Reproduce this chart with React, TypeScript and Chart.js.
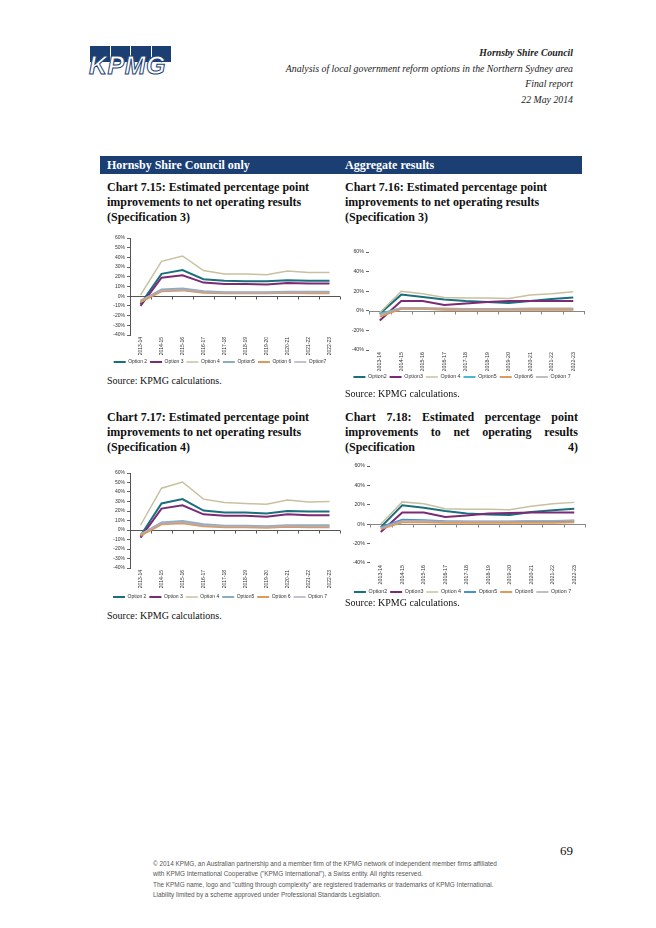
import React, { useEffect, useRef } from 'react';
import { Chart, registerables } from 'chart.js';

Chart.register(...registerables);

// ---------- data ----------
const years = ['2013-14', '2014-15', '2015-16', '2016-17', '2017-18', '2018-19', '2019-20', '2020-21', '2021-22', '2022-23'];

const names715 = ['Option 2', 'Option 3', 'Option 4', 'Option5', 'Option 6', 'Option7'];
const names716 = ['Option2', 'Option3', 'Option 4', 'Option5', 'Option6', 'Option 7'];
const names717 = ['Option 2', 'Option 3', 'Option 4', 'Option5', 'Option 6', 'Option 7'];
const names718 = ['Option2', 'Option3', 'Option 4', 'Option5', 'Option6', 'Option 7'];

// Chart 7.15 – Hornsby only, Specification 3 (percentage points)
const c715Option2 = [-8, 23, 27, 17.5, 16, 15.5, 15.5, 16.5, 16, 16];
const c715Option3 = [-10, 19, 21.5, 14, 12.5, 12.5, 12, 13.5, 13, 13];
const c715Option4 = [1, 36, 41.5, 26.5, 23, 23, 22, 26, 24.5, 24.5];
const c715Option5 = [-5, 7, 8, 5, 4, 4, 4, 4.5, 4.5, 4.5];
const c715Option6 = [-6, 5, 6, 3.5, 3, 3, 3, 3.5, 3, 3];
const c715Option7 = [-4, 6, 7, 4.5, 3.5, 3.5, 3.5, 4, 4, 4];

// Chart 7.16 – Aggregate, Specification 3
const c716Option2 = [-3, 16.5, 14, 11.5, 10, 9, 8, 10, 12, 13.5];
const c716Option3 = [-10, 10, 10, 6, 7.5, 9, 10, 10, 10, 10];
const c716Option4 = [-2, 20, 17.5, 13.5, 13, 13, 12.5, 16, 17.5, 19.5];
const c716Option5 = [-3, 2.5, 2, 1.5, 1.5, 1.5, 1.5, 1.5, 1.5, 1.5];
const c716Option6 = [-6, 2, 2, 1, 1, 1, 1, 1, 1, 1];
const c716Option7 = [-4, 3, 3, 2.5, 2, 2, 2, 2.5, 2.5, 2.5];

// Chart 7.17 – Hornsby only, Specification 4
const c717Option2 = [-6, 28, 32.5, 20.5, 18.5, 18.5, 17.5, 20, 19.5, 19.5];
const c717Option3 = [-8, 22.5, 26, 16.5, 15, 15, 14, 16.5, 15.5, 15.5];
const c717Option4 = [5, 44, 50.5, 32.5, 29, 28, 27, 31.5, 29.5, 30];
const c717Option5 = [-5, 8, 9.5, 6, 4.5, 4.5, 4, 5, 5, 5];
const c717Option6 = [-6, 6, 7, 4, 3, 3, 2.5, 3.5, 3, 3];
const c717Option7 = [-4, 7, 8.5, 5, 4, 4, 3.5, 4.5, 4, 4];

// Chart 7.18 – Aggregate, Specification 4
const c718Option2 = [-3, 19.5, 17, 13.5, 11, 10, 9.5, 12.5, 14.5, 16];
const c718Option3 = [-8, 12, 12, 7.5, 9, 11, 11.5, 12, 12, 12];
const c718Option4 = [0, 23, 21, 16, 15.5, 15.5, 15, 18.5, 21, 22.5];
const c718Option5 = [-3, 4.5, 4, 3, 2.5, 2.5, 2.5, 3, 3, 3.5];
const c718Option6 = [-5, 2, 2, 1.5, 1.5, 1.5, 1.5, 1.5, 1.5, 2];
const c718Option7 = [-4, 3.5, 3.5, 3, 3, 3, 3, 3.5, 3.5, 4];

// ---------- styles ----------
const colorsHornsby = ['#1b6f7c', '#7b2a76', '#c8c0a0', '#8aaebf', '#dc9a5c', '#b0abbd'];
const colors716 = ['#1b6f7c', '#7b2a76', '#c8c0a0', '#49b9d0', '#dc9a5c', '#aaa9b4'];
const colors718 = ['#1b6f7c', '#7b2a76', '#c8c0a0', '#4a93c9', '#dc9a5c', '#aaa9b4'];
const lineWidths = [2, 2, 1.5, 2, 2, 1.5];

const NAVY = '#1b3f73';
const SANS = '"Liberation Sans", Arial, sans-serif';
const SERIF = '"Liberation Serif", "Times New Roman", serif';

const zeroAxisPlugin = {
  id: 'zeroAxis',
  beforeDatasetsDraw(chart: any, _args: any, opts: any) {
    const { ctx, chartArea, scales } = chart;
    const x = scales.x;
    const y = scales.y;
    const y0 = Math.round(y.getPixelForValue(0)) + 0.5;
    ctx.save();
    ctx.strokeStyle = opts.color || '#555';
    ctx.lineWidth = 1;
    ctx.beginPath();
    ctx.moveTo(chartArea.left, y0);
    ctx.lineTo(chartArea.right + (opts.extend || 0), y0);
    const n = chart.data.labels.length;
    for (let i = 0; i <= n; i++) {
      const px = Math.round(x.getPixelForValue(i - 0.5)) + 0.5;
      ctx.moveTo(px, y0);
      ctx.lineTo(px, y0 + 3);
    }
    ctx.stroke();
    ctx.restore();
  },
};

type Geo = {
  canvasLeft: number;
  plotLeft: number;
  plotRight: number;
  plotTop: number;
  plotBottom: number;
  legendY: number;
};

type Props = {
  geo: Geo;
  names: string[];
  series: number[][];
  colors: string[];
  yStep: number;
  yBorder: boolean;
  zeroColor: string;
  zeroExtend: number;
  fontSize: number;
};

function LineChart({ geo, names, series, colors, yStep, yBorder, zeroColor, zeroExtend, fontSize }: Props) {
  const ref = useRef<HTMLCanvasElement>(null);
  const padTop = 8;
  const legendPad = 3;
  const itemH = fontSize;
  const legendTop = geo.legendY - legendPad - itemH / 2;
  const xH = legendTop - geo.plotBottom;
  const canvasTop = geo.plotTop - padTop;
  const rawBottom = legendTop + itemH + legendPad + 10;
  const height = Math.ceil(rawBottom - canvasTop);
  const padBottom = height - (rawBottom - canvasTop);
  const width = Math.ceil(geo.plotRight - geo.canvasLeft + 2);
  const padRight = geo.canvasLeft + width - geo.plotRight;
  const yW = geo.plotLeft - geo.canvasLeft;

  useEffect(() => {
    if (!ref.current) return;
    const font = { family: SANS, size: fontSize };
    const chart = new Chart(ref.current, {
      type: 'line',
      data: {
        labels: years,
        datasets: series.map((d, i) => ({
          label: names[i],
          data: d,
          borderColor: colors[i],
          backgroundColor: colors[i],
          borderWidth: lineWidths[i],
          pointRadius: 0,
          tension: 0,
          order: series.length - i,
        })),
      },
      options: {
        animation: false,
        responsive: false,
        devicePixelRatio: 1,
        layout: { padding: { top: padTop, right: padRight, bottom: padBottom, left: 0 } },
        plugins: {
          legend: {
            position: 'bottom',
            labels: {
              usePointStyle: true,
              pointStyle: 'line',
              pointStyleWidth: 12,
              boxHeight: fontSize,
              padding: legendPad,
              font,
              color: '#333',
              sort: (a: any, b: any) => a.datasetIndex - b.datasetIndex,
            },
          },
          tooltip: { enabled: false },
          zeroAxis: { color: zeroColor, extend: zeroExtend },
        } as any,
        scales: {
          x: {
            type: 'category',
            offset: true,
            grid: { display: false, drawTicks: false, tickLength: 0 },
            border: { display: false },
            ticks: { autoSkip: false, maxRotation: 90, minRotation: 90, padding: 2, font, color: '#333' },
            afterFit: (s: any) => { s.height = xH; },
          },
          y: {
            min: -40,
            max: 60,
            ticks: { stepSize: yStep, callback: (v: any) => v + '%', font, color: '#333', padding: 2 },
            grid: { drawOnChartArea: false, drawTicks: true, tickLength: 3, color: '#666' },
            border: { display: yBorder, color: '#555' },
            afterFit: (s: any) => { s.width = yW; },
          },
        },
      },
      plugins: [zeroAxisPlugin],
    } as any);
    return () => chart.destroy();
  }, []);

  return (
    <canvas
      ref={ref}
      width={width}
      height={height}
      style={{ position: 'absolute', left: geo.canvasLeft, top: canvasTop, width, height }}
    />
  );
}

const abs = (left: number, top: number, extra: React.CSSProperties = {}): React.CSSProperties => ({
  position: 'absolute',
  left,
  top,
  whiteSpace: 'nowrap',
  ...extra,
});

function Title({ left, top, lines, justify }: { left: number; top: number; lines: string[]; justify?: boolean }) {
  return (
    <div style={abs(left, top, { width: 233, fontFamily: SERIF, fontWeight: 'bold', fontSize: 12, lineHeight: '15.3px', color: '#111' })}>
      {lines.map((l, i) => (
        <div key={i} style={justify ? { textAlign: 'justify', textAlignLast: 'justify' as any, whiteSpace: 'normal' } : {}}>
          {l}
        </div>
      ))}
    </div>
  );
}

function Source({ left, top }: { left: number; top: number }) {
  return (
    <div style={abs(left, top, { fontFamily: SERIF, fontSize: 10, lineHeight: '12px', color: '#111' })}>
      Source: KPMG calculations.
    </div>
  );
}

export default function App() {
  return (
    <div style={{ position: 'absolute', left: 0, top: 0, width: 656, height: 928, background: '#fff', overflow: 'hidden' }}>
      {/* KPMG logo */}
      <div style={abs(90, 46, { width: 84, height: 32 })}>
        {[0, 1, 2, 3].map((i) => (
          <div key={i} style={{ position: 'absolute', left: i * 20.5, top: 0, width: 19.5, height: 16, background: NAVY }} />
        ))}
        <div
          style={{
            position: 'absolute',
            left: -1,
            top: 6,
            fontFamily: SANS,
            fontStyle: 'italic',
            fontWeight: 'bold',
            fontSize: 25,
            lineHeight: '26px',
            color: '#fff',
            WebkitTextStroke: `1px ${NAVY}`,
            letterSpacing: 0.5,
          } as any}
        >
          KPMG
        </div>
      </div>

      {/* header right */}
      <div style={{ position: 'absolute', right: 83, top: 45, textAlign: 'right', fontFamily: SERIF, fontStyle: 'italic', fontSize: 9.8, lineHeight: '15.7px', color: '#222' }}>
        <div style={{ fontWeight: 'bold' }}>Hornsby Shire Council</div>
        <div>Analysis of local government reform options in the Northern Sydney area</div>
        <div>Final report</div>
        <div>22 May 2014</div>
      </div>

      {/* blue bar */}
      <div style={abs(100, 156, { width: 482, height: 18, background: NAVY })}>
        <div style={abs(7, 0, { color: '#fff', fontFamily: SERIF, fontWeight: 'bold', fontSize: 12, lineHeight: '18px' })}>Hornsby Shire Council only</div>
        <div style={abs(245, 0, { color: '#fff', fontFamily: SERIF, fontWeight: 'bold', fontSize: 12, lineHeight: '18px' })}>Aggregate results</div>
      </div>

      <Title left={107} top={179.5} lines={['Chart 7.15: Estimated percentage point', 'improvements to net operating results', '(Specification 3)']} />
      <Title left={345} top={179.5} lines={['Chart 7.16: Estimated percentage point', 'improvements to net operating results', '(Specification 3)']} />
      <Title left={107} top={409.5} lines={['Chart 7.17: Estimated percentage point', 'improvements to net operating results', '(Specification 4)']} />
      <Title left={345} top={409.5} justify lines={['Chart 7.18: Estimated percentage point', 'improvements to net operating results', '(Specification 4)']} />

      <LineChart
        geo={{ canvasLeft: 100, plotLeft: 130, plotRight: 340, plotTop: 238, plotBottom: 335, legendY: 362 }}
        names={names715}
        series={[c715Option2, c715Option3, c715Option4, c715Option5, c715Option6, c715Option7]}
        colors={colorsHornsby}
        yStep={10}
        yBorder={true}
        zeroColor="#555"
        zeroExtend={0}
        fontSize={5}
      />
      <LineChart
        geo={{ canvasLeft: 340, plotLeft: 369, plotRight: 584, plotTop: 252, plotBottom: 350, legendY: 377 }}
        names={names716}
        series={[c716Option2, c716Option3, c716Option4, c716Option5, c716Option6, c716Option7]}
        colors={colors716}
        yStep={20}
        yBorder={false}
        zeroColor="#888"
        zeroExtend={1}
        fontSize={5.3}
      />
      <LineChart
        geo={{ canvasLeft: 100, plotLeft: 130, plotRight: 340, plotTop: 473, plotBottom: 568, legendY: 597 }}
        names={names717}
        series={[c717Option2, c717Option3, c717Option4, c717Option5, c717Option6, c717Option7]}
        colors={colorsHornsby}
        yStep={10}
        yBorder={true}
        zeroColor="#555"
        zeroExtend={0}
        fontSize={5}
      />
      <LineChart
        geo={{ canvasLeft: 340, plotLeft: 370, plotRight: 585, plotTop: 466, plotBottom: 563, legendY: 592 }}
        names={names718}
        series={[c718Option2, c718Option3, c718Option4, c718Option5, c718Option6, c718Option7]}
        colors={colors718}
        yStep={20}
        yBorder={false}
        zeroColor="#888"
        zeroExtend={1}
        fontSize={5.3}
      />

      <Source left={107} top={375} />
      <Source left={345} top={388} />
      <Source left={107} top={610} />
      <Source left={345} top={597} />

      {/* page number */}
      <div style={abs(560, 843, { fontFamily: SERIF, fontSize: 13, lineHeight: '16px', color: '#111' })}>69</div>

      {/* footer */}
      <div style={abs(153, 859, { fontFamily: SANS, fontSize: 6.4, lineHeight: '9.5px', color: '#555' })}>
        <div>© 2014 KPMG, an Australian partnership and a member firm of the KPMG network of independent member firms affiliated</div>
        <div>with KPMG International Cooperative ("KPMG International"), a Swiss entity. All rights reserved.</div>
        <div style={{ marginTop: 1.5 }}>The KPMG name, logo and "cutting through complexity" are registered trademarks or trademarks of KPMG International.</div>
        <div style={{ marginTop: 1 }}>Liability limited by a scheme approved under Professional Standards Legislation.</div>
      </div>
    </div>
  );
}
